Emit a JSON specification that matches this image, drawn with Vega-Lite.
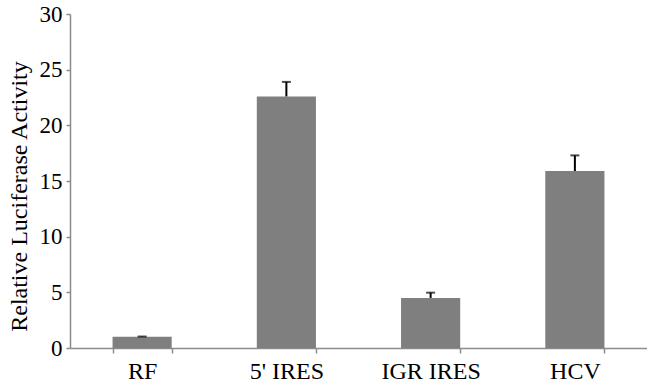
{
  "$schema": "https://vega.github.io/schema/vega-lite/v6.json",
  "width": 577,
  "height": 334,
  "autosize": {"type": "none"},
  "padding": {"left": 70, "top": 14, "right": 0, "bottom": 38},
  "background": "white",
  "config": {"view": {"stroke": null}, "font": "Liberation Serif"},
  "data": {
    "values": [
      {"construct": "RF", "activity": 1.0, "upper": 1.03},
      {"construct": "5' IRES", "activity": 22.6, "upper": 23.9},
      {"construct": "IGR IRES", "activity": 4.5, "upper": 4.97},
      {"construct": "HCV", "activity": 15.9, "upper": 17.3}
    ]
  },
  "encoding": {
    "x": {
      "field": "construct",
      "type": "nominal",
      "sort": null,
      "scale": {"paddingInner": 0.59, "paddingOuter": 0.295},
      "axis": {
        "title": null,
        "labelAngle": 0,
        "labelFontSize": 24,
        "labelColor": "#000000",
        "labelPadding": 6,
        "domainColor": "#8c8c8c",
        "domainWidth": 1.5,
        "tickColor": "#8c8c8c",
        "tickWidth": 1.5,
        "tickSize": 5,
        "tickBand": "extent"
      }
    }
  },
  "layer": [
    {
      "mark": {"type": "bar", "color": "#7f7f7f"},
      "encoding": {
        "y": {
          "field": "activity",
          "type": "quantitative",
          "scale": {"domain": [0, 30], "nice": false},
          "axis": {
            "title": "Relative Luciferase Activity",
            "titleFontSize": 24,
            "titleFontWeight": "normal",
            "titleColor": "#000000",
            "titlePadding": 8,
            "titleY": 182,
            "values": [0, 5, 10, 15, 20, 25, 30],
            "grid": false,
            "labelFontSize": 23,
            "labelColor": "#000000",
            "labelPadding": 4,
            "domainColor": "#8c8c8c",
            "domainWidth": 1.5,
            "tickColor": "#8c8c8c",
            "tickWidth": 1.5,
            "tickSize": 4
          }
        }
      }
    },
    {
      "mark": {"type": "rule", "color": "#000000", "strokeWidth": 2},
      "encoding": {
        "y": {"field": "activity", "type": "quantitative"},
        "y2": {"field": "upper"}
      }
    },
    {
      "mark": {"type": "tick", "color": "#000000", "thickness": 2, "size": 9},
      "encoding": {
        "y": {"field": "upper", "type": "quantitative"}
      }
    }
  ]
}
